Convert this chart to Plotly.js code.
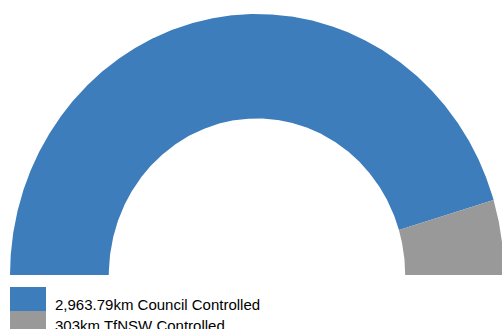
<!DOCTYPE html>
<html>
<head>
<meta charset="utf-8">
<script src="https://cdn.plot.ly/plotly-3.0.1.min.js"></script>
<style>html,body{margin:0;padding:0;background:#fff;}#chart{width:502px;height:329px;}</style>
</head>
<body>
<div id="chart"></div>
<script>
const categories = ['2,963.79km Council Controlled', '303km TfNSW Controlled'];
const values = [2963.79, 303];
const colors = ['#3d7dbb', '#999999'];

const W = 502, H = 329;
const hole = 0.6;
const total = values.reduce((a, b) => a + b, 0);

// build half-donut segments (angles from PI clockwise to 0) on cartesian axes
const traces = [];
let cum = 0;
values.forEach((v, i) => {
  const a0 = Math.PI - Math.PI * cum / total;
  const a1 = Math.PI - Math.PI * (cum + v) / total;
  cum += v;
  const n = Math.max(4, Math.ceil(Math.abs(a0 - a1) / (Math.PI / 720)));
  const xs = [], ys = [];
  for (let k = 0; k <= n; k++) {
    const a = a0 + (a1 - a0) * k / n;
    xs.push(Math.cos(a)); ys.push(Math.sin(a));
  }
  for (let k = n; k >= 0; k--) {
    const a = a0 + (a1 - a0) * k / n;
    xs.push(hole * Math.cos(a)); ys.push(hole * Math.sin(a));
  }
  traces.push({
    type: 'scatter', mode: 'lines', x: xs, y: ys,
    fill: 'toself', fillcolor: colors[i],
    line: {width: 0, color: colors[i]},
    name: categories[i], hoverinfo: 'skip', showlegend: false
  });
});

// custom legend boxes + labels
const shapes = [], annotations = [];
const boxX0 = 10, boxX1 = 46, boxTop = 287, boxH = 24;
const textCenter0 = 304.5, textStep = 20.5;
categories.forEach((c, i) => {
  const t = boxTop + i * boxH;
  shapes.push({
    type: 'rect', xref: 'paper', yref: 'paper',
    x0: boxX0 / W, x1: boxX1 / W,
    y0: 1 - (t + boxH) / H, y1: 1 - t / H,
    fillcolor: colors[i], line: {width: 0}, layer: 'above'
  });
  annotations.push({
    xref: 'paper', yref: 'paper', x: 53 / W, y: 1 - (textCenter0 + i * textStep) / H,
    xanchor: 'left', yanchor: 'middle', showarrow: false,
    text: c, font: {family: 'Liberation Sans, Arial, sans-serif', size: 15, color: '#000'}
  });
});

const layout = {
  width: W, height: H,
  margin: {l: 0, r: 0, t: 0, b: 0, pad: 0},
  paper_bgcolor: '#fff', plot_bgcolor: '#fff',
  showlegend: false,
  xaxis: {range: [-257 / 247, (W - 257) / 247], visible: false, fixedrange: true},
  yaxis: {range: [-(H - 275) / 261, 275 / 261], visible: false, fixedrange: true},
  shapes: shapes, annotations: annotations
};

Plotly.newPlot('chart', traces, layout, {displayModeBar: false, staticPlot: true});
</script>
</body>
</html>
